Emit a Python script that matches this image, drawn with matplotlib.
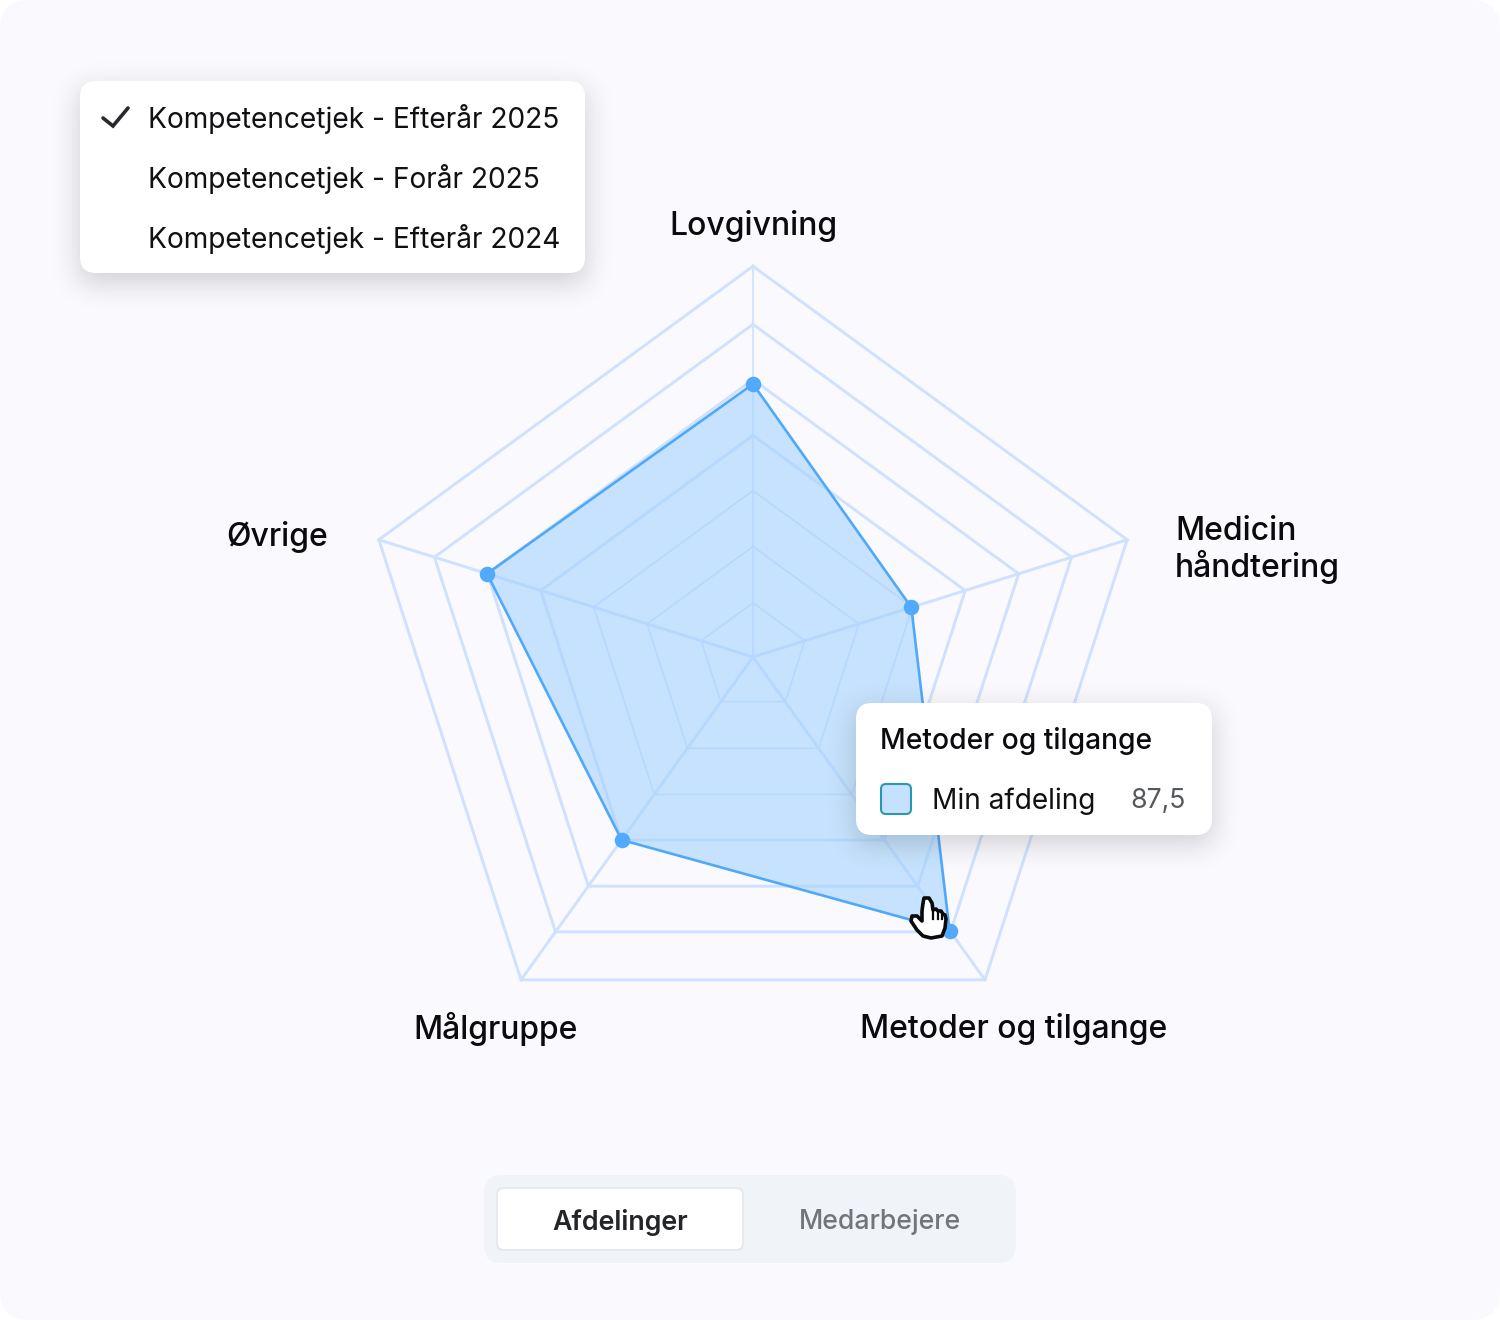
import matplotlib
matplotlib.use("Agg")
import matplotlib.pyplot as plt
import numpy as np
from matplotlib.patches import FancyBboxPatch, PathPatch
from matplotlib.path import Path

plt.rcParams['font.family'] = ['Inter', 'DejaVu Sans']

# data
categories = ['Lovgivning', 'Medicin\nhåndtering', 'Metoder og tilgange', 'Målgruppe', 'Øvrige']
values = [70.9, 43.1, 87.5, 58.5, 72.4]
spoke_angles = [0.0, 72.6, 144.3, 215.7, 287.4]
ring_step = [14.5, 14.55, 14.75, 14.75, 14.55]
ring_levels = [0.97, 1.98, 2.98, 3.97, 4.97, 5.96, 7.0]
menu_items = ['Kompetencetjek - Efterår 2025', 'Kompetencetjek - Forår 2025', 'Kompetencetjek - Efterår 2024']
tooltip_title = 'Metoder og tilgange'
tooltip_series = 'Min afdeling'
tooltip_value = '87,5'
tabs = ['Afdelinger', 'Medarbejere']

W, H = 1500, 1320
CX, CY = 753, 657
RMAX = 104
PX_PER_UNIT = 3.85


def box(ax, x, y, w, h, r, color, **kw):
    p = FancyBboxPatch((x + r, y + r), w - 2*r, h - 2*r, boxstyle="round,pad={},rounding_size={}".format(r, r),
                       fc=color, ec=kw.pop('ec', 'none'), **kw)
    ax.add_patch(p)
    return p


def shadow(ax, x, y, w, h, dy, sigma, strength):
    # blurred rectangle, drawn as an image under the card
    pad = int(3*sigma) + 2
    a = np.zeros((h + 2*pad, w + 2*pad))
    a[pad:pad + h, pad:pad + w] = 1.0
    k = np.exp(-0.5*(np.arange(-pad, pad + 1)/sigma)**2)
    k = k/k.sum()
    a = np.apply_along_axis(lambda m: np.convolve(m, k, mode='same'), 0, a)
    a = np.apply_along_axis(lambda m: np.convolve(m, k, mode='same'), 1, a)
    rgba = np.zeros(a.shape + (4,))
    rgba[..., :3] = 0.12
    rgba[..., 3] = a*strength
    ax.imshow(rgba, extent=(x - pad, x + w + pad, y + dy + h + pad, y + dy - pad), aspect='auto',
              interpolation='bilinear', zorder=0.5)
    ax.set_xlim(0, W)
    ax.set_ylim(H, 0)


fig = plt.figure(figsize=(W/100, H/100), dpi=100, facecolor='white')

# background card
bg = fig.add_axes([0, 0, 1, 1], zorder=0)
bg.set_xlim(0, W)
bg.set_ylim(H, 0)
bg.axis('off')
box(bg, 0, 0, W, H, 30, '#f9f9fe')

# radar
rad = RMAX*PX_PER_UNIT
ax = fig.add_axes([(CX - rad)/W, 1 - (CY + rad)/H, 2*rad/W, 2*rad/H], projection='polar', zorder=1)
ax.set_theta_zero_location('N')
ax.set_theta_direction(-1)
ax.set_ylim(0, RMAX)
ax.axis('off')
ax.patch.set_alpha(0)

angles = np.deg2rad(spoke_angles)
th_closed = np.append(angles, angles[0])
step_closed = np.append(ring_step, ring_step[0])
grid_col = '#d0e1fe'

for n, k in enumerate(ring_levels):
    lw = 1.2 if n < 3 else 2.1
    ax.plot(th_closed, step_closed*k, color=grid_col, lw=lw, solid_joinstyle='miter', zorder=1, clip_on=False)
for i, a in enumerate(angles):
    ax.plot([a, a], [0, ring_step[i]*ring_levels[-1]], color=grid_col, lw=1.2 if i == 0 else 2.1, zorder=1, clip_on=False)

v_closed = np.append(values, values[0])
ax.fill(th_closed, v_closed, color='#a5d3ff', alpha=0.6, lw=0, zorder=2, clip_on=False)
ax.plot(th_closed, v_closed, color='#4fa9fb', lw=1.9, zorder=3, clip_on=False)
ax.scatter(angles, values, s=125, color='#52aafd', lw=0, zorder=4, clip_on=False)

# overlay in pixels
ui = fig.add_axes([0, 0, 1, 1], zorder=2)
ui.set_xlim(0, W)
ui.set_ylim(H, 0)
ui.axis('off')
ui.patch.set_alpha(0)

# category labels
label_size = 23.0
ui.text(753, 226, categories[0], fontsize=label_size, ha='center', va='center', fontweight='medium', color='#0b0b0f')
ui.text(1175, 550, categories[1], fontsize=label_size, ha='left', va='center', fontweight='medium', color='#0b0b0f', linespacing=1.14)
ui.text(1014, 1029, categories[2], fontsize=label_size, ha='center', va='center', fontweight='medium', color='#0b0b0f')
ui.text(496, 1029, categories[3], fontsize=label_size, ha='center', va='center', fontweight='medium', color='#0b0b0f')
ui.text(277, 537, categories[4], fontsize=label_size, ha='center', va='center', fontweight='medium', color='#0b0b0f')

# dropdown menu
shadow(ui, 80, 81, 505, 192, 9, 14, 0.2)
box(ui, 80, 81, 505, 192, 16, 'white')
for i, item in enumerate(menu_items):
    ui.text(148, 118.5 + i*60, item, fontsize=20.25, ha='left', va='center', color='#111114')
ui.plot([103, 113, 128], [118, 126, 108], color='#26282c', lw=2.6, solid_capstyle='round', solid_joinstyle='miter')

# tooltip
shadow(ui, 856, 703, 356, 132, 8, 14, 0.2)
box(ui, 856, 703, 356, 132, 16, 'white')
ui.text(880, 741, tooltip_title, fontsize=20.3, ha='left', va='center', fontweight='medium', color='#0b0b0f')
box(ui, 881, 784, 30, 30, 5, '#c6e1fd', ec='#2a97b5', lw=1.5)
ui.text(932, 801, tooltip_series, fontsize=20.2, ha='left', va='center', color='#111114')
ui.text(1186, 801, tooltip_value, fontsize=19.2, ha='right', va='center', color='#55585d')

# hand cursor
hand = [(923, 903), (924, 898), (929, 898), (932, 903), (933, 910), (936, 909), (938, 911), (941, 911), (943, 914),
        (945, 915), (946, 919), (945, 928), (942, 936), (931, 938), (923, 936), (917, 930), (911, 921), (912, 916),
        (917, 916), (922, 921), (922, 911), (923, 903)]
ui.add_patch(PathPatch(Path(hand), fc='white', ec='#0a0a0a', lw=2.6, joinstyle='round', zorder=6))
ui.plot([933, 933], [910, 919], color='#0a0a0a', lw=1.6, zorder=7)
ui.plot([938, 938], [911, 919], color='#0a0a0a', lw=1.6, zorder=7)
ui.plot([942, 942], [914, 919], color='#0a0a0a', lw=1.6, zorder=7)

# tab switch
box(ui, 484, 1175, 532, 88, 18, '#f0f3f8')
box(ui, 496, 1187, 248, 64, 7, '#e7e9ee')
box(ui, 498, 1189, 244, 60, 6, 'white')
ui.text(620, 1222, tabs[0], fontsize=19.3, ha='center', va='center', fontweight='semibold', color='#232529')
ui.text(880, 1222, tabs[1], fontsize=19.2, ha='center', va='center', fontweight='medium', color='#72767c')

fig.savefig('out.png', dpi=100, facecolor='white')
